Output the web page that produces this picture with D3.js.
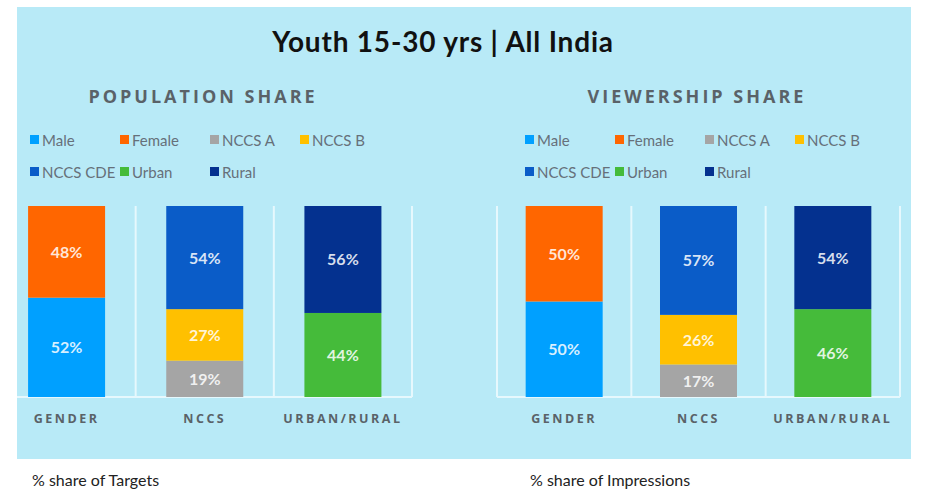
<!DOCTYPE html>
<html><head><meta charset="utf-8">
<script src="https://cdn.jsdelivr.net/npm/d3@7"></script>
<style>body{margin:0;background:#fff;}svg{display:block;}</style>
</head><body>
<svg id="c" width="926" height="504"></svg>
<script>
const title = "Youth 15-30 yrs | All India";
const panelTitles = ["POPULATION SHARE", "VIEWERSHIP SHARE"];
const footers = ["% share of Targets", "% share of Impressions"];
const categories = ["GENDER", "NCCS", "URBAN/RURAL"];
const seriesNames = ["Male", "Female", "NCCS A", "NCCS B", "NCCS CDE", "Urban", "Rural"];
const seriesColors = ["#00A0FF", "#FF6600", "#A5A5A5", "#FFC000", "#0A5CC8", "#45BB3A", "#04318F"];
// stacks per category: [series, value] bottom to top
const populationStacks = [
  [["Male", 52], ["Female", 48]],
  [["NCCS A", 19], ["NCCS B", 27], ["NCCS CDE", 54]],
  [["Urban", 44], ["Rural", 56]]
];
const viewershipStacks = [
  [["Male", 50], ["Female", 50]],
  [["NCCS A", 17], ["NCCS B", 26], ["NCCS CDE", 57]],
  [["Urban", 46], ["Rural", 54]]
];

const svg = d3.select("#c");
const color = d3.scaleOrdinal().domain(seriesNames).range(seriesColors);
const font = "Lato, 'Open Sans', 'Noto Sans', sans-serif";

svg.append("rect").attr("x", 17).attr("y", 7).attr("width", 894).attr("height", 452).attr("fill", "#B8EAF7");
svg.append("defs").append("clipPath").attr("id", "pclip")
  .append("rect").attr("x", 17).attr("y", 7).attr("width", 894).attr("height", 452);

svg.append("text").attr("x", 443).attr("y", 52).attr("text-anchor", "middle")
  .attr("font-family", font).attr("font-weight", "bold").attr("font-size", 28).attr("letter-spacing", 0.8)
  .attr("fill", "#111").text(title);

const panels = [
  {stacks: populationStacks, band: [-2.5, 412], titleX: 203, legX: 30, footX: 32},
  {stacks: viewershipStacks, band: [497, 900], titleX: 697, legX: 525, footX: 530}
];

const y = d3.scaleLinear().domain([0, 100]).range([397, 206]);

panels.forEach((p, pi) => {
  const g = svg.append("g").attr("clip-path", "url(#pclip)");
  g.append("text").attr("x", p.titleX).attr("y", 103).attr("text-anchor", "middle")
    .attr("font-family", "'Open Sans', sans-serif").attr("font-weight", "bold").attr("font-size", 18)
    .attr("letter-spacing", 3).attr("fill", "#5a6268").text(panelTitles[pi]);

  // legend
  seriesNames.forEach((s, i) => {
    const col = i < 4 ? i : i - 4;
    const row = i < 4 ? 0 : 1;
    const lx = p.legX + col * 90, ly = 140 + row * 32;
    g.append("rect").attr("x", lx).attr("y", ly - 5).attr("width", 9).attr("height", 9).attr("fill", color(s));
    g.append("text").attr("x", lx + 12).attr("y", ly + 5.5).attr("font-family", font).attr("font-size", 15)
      .attr("fill", "#66707a").text(s);
  });

  const x = d3.scaleBand().domain(categories).range(p.band).paddingInner(0).paddingOuter(0);
  const bw = 77;
  // grid: verticals at band edges, baseline
  const edges = categories.map(c => x(c)).concat([p.band[1]]);
  edges.forEach((e, i) => {
    if (pi === 0 && i === 0) return;
    g.append("line").attr("x1", e).attr("x2", e).attr("y1", 206).attr("y2", 397)
      .attr("stroke", "#E6F8FD").attr("stroke-width", 2);
  });
  g.append("line").attr("x1", pi === 0 ? 17 : p.band[0]).attr("x2", p.band[1]).attr("y1", 397).attr("y2", 397)
    .attr("stroke", "#E6F8FD").attr("stroke-width", 2);

  p.stacks.forEach((stack, ci) => {
    const cx = x(categories[ci]) + x.bandwidth() / 2;
    let cum = 0;
    stack.forEach(([s, v]) => {
      const y0 = y(cum), y1 = y(cum + v);
      g.append("rect").attr("x", cx - bw / 2).attr("y", y1).attr("width", bw).attr("height", y0 - y1)
        .attr("fill", color(s));
      g.append("text").attr("x", cx).attr("y", (y0 + y1) / 2 + 6).attr("text-anchor", "middle")
        .attr("font-family", font).attr("font-weight", "bold").attr("font-size", 16)
        .attr("fill", "#fff").attr("fill-opacity", 0.85).text(v + "%");
      cum += v;
    });
    g.append("text").attr("x", cx).attr("y", 423).attr("text-anchor", "middle")
      .attr("font-family", "'Open Sans', sans-serif").attr("font-weight", "bold").attr("font-size", 12.5)
      .attr("letter-spacing", 2.5).attr("fill", "#5a6268").text(categories[ci]);
  });

  svg.append("text").attr("x", p.footX).attr("y", 486).attr("font-family", font).attr("font-size", 16)
    .attr("fill", "#222").text(footers[pi]);
});
</script>
</body></html>
